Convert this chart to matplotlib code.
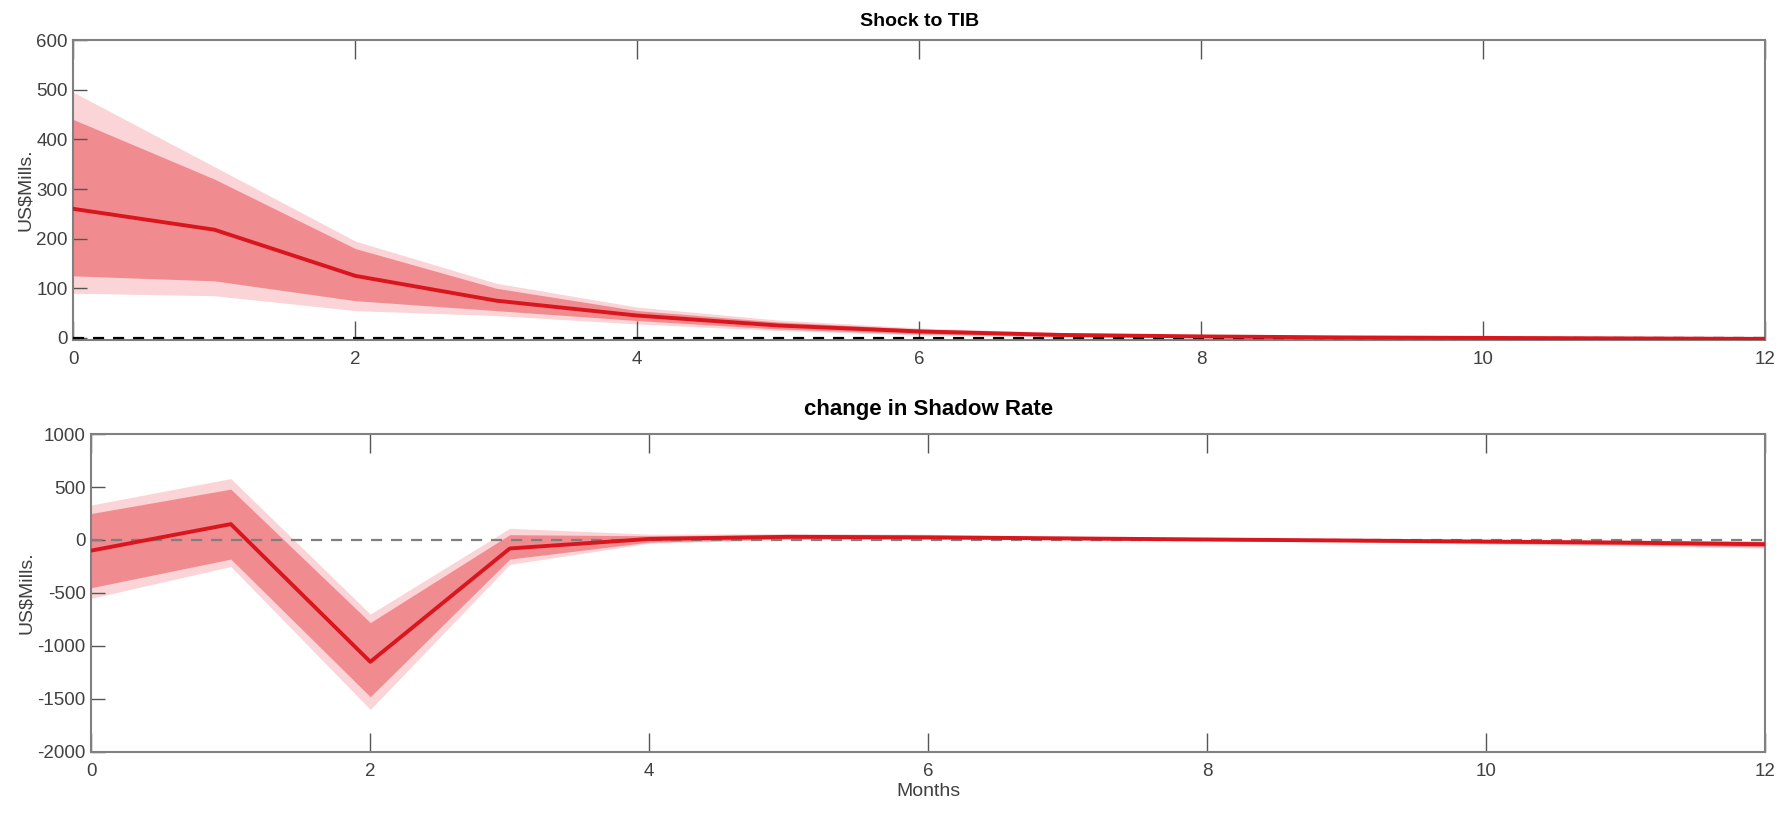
import numpy as np
import matplotlib.pyplot as plt

plt.rcParams['font.family'] = ['Liberation Sans Narrow', 'Liberation Sans', 'DejaVu Sans']
plt.rcParams['axes.unicode_minus'] = False

months = np.arange(0, 13)

# Shock to TIB
tib_med = [260, 218, 125, 75, 45, 25, 13, 6, 3, 1, 0, -1, -2]
tib_in_hi = [440, 320, 180, 100, 55, 32, 18, 9, 5, 3, 2, 1, 0]
tib_in_lo = [125, 115, 75, 55, 35, 18, 8, 3, 1, -1, -2, -3, -4]
tib_out_hi = [495, 345, 195, 110, 62, 36, 20, 11, 6, 4, 2, 1, 1]
tib_out_lo = [90, 85, 55, 45, 28, 15, 6, 2, 0, -2, -3, -4, -5]

# change in Shadow Rate
sr_med = [-100, 150, -1150, -80, 10, 30, 25, 15, 5, -5, -15, -25, -40]
sr_in_hi = [250, 480, -780, 50, 40, 50, 45, 30, 15, 5, 0, -5, -15]
sr_in_lo = [-450, -180, -1480, -180, -20, 10, 10, 5, -5, -15, -30, -45, -65]
sr_out_hi = [330, 580, -700, 110, 55, 60, 55, 35, 20, 10, 5, 0, -5]
sr_out_lo = [-550, -250, -1600, -230, -30, 5, 5, 0, -10, -20, -40, -55, -75]

fig = plt.figure(figsize=(17.91, 8.19), dpi=100)
ax1 = fig.add_axes([0.041, 0.585, 0.9445, 0.366])
ax2 = fig.add_axes([0.051, 0.082, 0.9345, 0.388])

panels = [
    (ax1, 'Shock to TIB', tib_med, tib_in_hi, tib_in_lo, tib_out_hi, tib_out_lo,
     (-4, 600), [0, 100, 200, 300, 400, 500, 600], 'black', 14, 10),
    (ax2, 'change in Shadow Rate', sr_med, sr_in_hi, sr_in_lo, sr_out_hi, sr_out_lo,
     (-2000, 1000), [-2000, -1500, -1000, -500, 0, 500, 1000], '#7f7f7f', 16, 14),
]

for ax, title, med, ihi, ilo, ohi, olo, ylim, yticks, zcol, tsize, tpad in panels:
    ax.fill_between(months, olo, ohi, color='#fad4d6', lw=0)
    ax.fill_between(months, ilo, ihi, color='#f08b90', lw=0)
    ax.axhline(0, color=zcol, ls=(0, (5, 4)), lw=1.6, zorder=3)
    ax.plot(months, med, color='#d9161e', lw=2.8, zorder=4)
    ax.set_xlim(0, 12)
    ax.set_ylim(*ylim)
    ax.set_xticks(range(0, 13, 2))
    ax.set_yticks(yticks)
    ax.set_title(title, fontsize=tsize, fontweight='bold', pad=tpad)
    ax.set_ylabel('US\\$Mills.', fontsize=14, color='#404040', labelpad=2)
    ax.tick_params(axis='x', direction='in', top=True, length=14, width=1,
                   color='#555555', labelsize=13.5, labelcolor='#404040', pad=8)
    ax.tick_params(axis='y', direction='in', length=10, width=1,
                   color='#555555', labelsize=13.5, labelcolor='#404040', pad=4)
    for sp in ax.spines.values():
        sp.set_color('#808080')
        sp.set_linewidth(1.5)

ax2.set_xlabel('Months', fontsize=14, color='#404040', labelpad=2)

fig.savefig('out.png', dpi=100)
